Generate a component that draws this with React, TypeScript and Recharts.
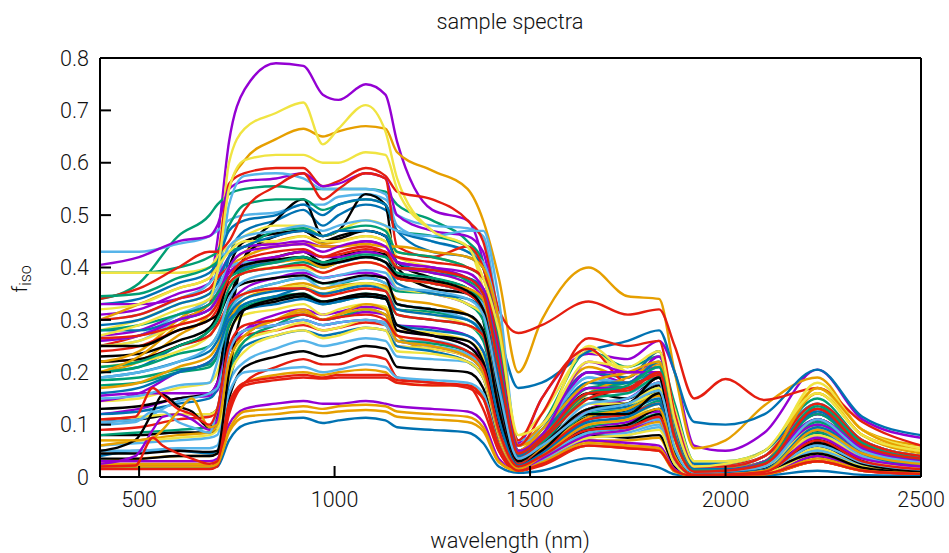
import React from 'react';
import { LineChart, Line, XAxis, YAxis } from 'recharts';

const wavelengths = [400, 500, 600, 680, 700, 730, 770, 850, 920, 970, 1010, 1080, 1130, 1160, 1250, 1340, 1380, 1420, 1470, 1530, 1650, 1750, 1830, 1870, 1920, 2000, 2100, 2235, 2350, 2500];
// the few spectra with pigment bumps below 700 nm need a finer start
const bumpWavelengths = [400, 490, 535, 560, 600, 635, 680, 700, 730, 770, 850, 920, 970, 1010, 1080, 1130, 1160, 1250, 1340, 1380, 1420, 1470, 1530, 1650, 1750, 1830, 1870, 1920, 2000, 2100, 2235, 2350, 2500];

const xTicks = [500, 1000, 1500, 2000, 2500];
const yTicks = [0, 0.1, 0.2, 0.3, 0.4, 0.5, 0.6, 0.7, 0.8];

// gnuplot default line colours, in cycle order
const palette = ['#9400d3', '#009e73', '#56b4e9', '#e69f00', '#f0e442', '#0072b2', '#e51e10', '#000000'];

const s01 = [.31,.32,.35,.37,.45,.64,.74,.79,.785,.73,.72,.75,.73,.64,.51,.49,.41,.22,.065,.15,.235,.225,.26,.2,.06,.05,.085,.205,.11,.075];
const s02 = [.34,.37,.46,.50,.52,.54,.55,.555,.55,.55,.55,.55,.545,.52,.49,.45,.41,.27,.06,.1,.24,.21,.23,.14,.03,.03,.05,.15,.07,.04];
const s03 = [.43,.43,.445,.46,.47,.49,.50,.505,.52,.52,.535,.54,.53,.50,.48,.475,.46,.30,.06,.09,.19,.17,.2,.1,.02,.02,.04,.12,.06,.035];
const s04 = [.30,.33,.36,.38,.42,.55,.605,.645,.665,.65,.66,.67,.665,.62,.585,.55,.49,.38,.20,.30,.40,.345,.34,.2,.055,.07,.137,.19,.09,.06];
const s05 = [.28,.30,.33,.35,.40,.60,.665,.695,.715,.635,.665,.71,.66,.57,.47,.44,.36,.22,.08,.12,.24,.2,.22,.13,.03,.03,.05,.17,.08,.05];
const s06 = [.20,.21,.25,.27,.30,.42,.47,.49,.51,.48,.50,.52,.51,.47,.43,.42,.40,.28,.17,.18,.24,.26,.28,.2,.105,.10,.12,.205,.115,.08];
const s07 = [.25,.27,.30,.33,.40,.56,.58,.59,.59,.555,.565,.59,.575,.545,.53,.49,.45,.32,.275,.29,.335,.31,.32,.25,.15,.187,.147,.17,.105,.06];
const s08 = [.105,.11,.12,.12,.13,.3,.42,.49,.53,.46,.47,.54,.52,.38,.37,.36,.3,.12,.04,.07,.16,.15,.19,.08,.01,.01,.02,.06,.025,.012];
const s09 = [.405,.42,.45,.46,.48,.55,.565,.57,.58,.555,.56,.58,.57,.50,.47,.46,.43,.27,.06,.10,.2,.18,.23,.12,.02,.02,.04,.13,.06,.035];
const s10 = [.39,.39,.40,.42,.43,.48,.52,.53,.53,.51,.52,.53,.52,.47,.46,.44,.40,.26,.05,.08,.18,.17,.2,.08,.015,.015,.03,.11,.05,.03];
const s11 = [.25,.26,.3,.32,.35,.52,.575,.58,.57,.55,.55,.55,.54,.48,.45,.43,.41,.3,.07,.09,.17,.16,.19,.07,.015,.015,.03,.1,.045,.025];
const s12 = [.20,.22,.27,.31,.33,.40,.43,.45,.46,.445,.45,.46,.45,.43,.42,.40,.38,.27,.06,.1,.21,.19,.24,.1,.02,.02,.04,.16,.08,.05];
const s13 = [.39,.39,.39,.40,.42,.44,.46,.48,.48,.46,.47,.49,.48,.42,.40,.38,.36,.22,.05,.09,.25,.2,.19,.09,.015,.02,.04,.18,.09,.055];
const s14 = [.33,.34,.37,.39,.41,.47,.49,.50,.52,.50,.52,.53,.52,.47,.45,.43,.40,.25,.05,.09,.2,.19,.24,.11,.025,.025,.05,.14,.07,.04];
const s15 = [.34,.36,.40,.43,.43,.45,.51,.555,.58,.53,.55,.58,.57,.44,.42,.44,.40,.27,.07,.15,.245,.18,.19,.09,.015,.02,.04,.12,.06,.03];
const s16 = [.08,.08,.085,.085,.09,.28,.42,.46,.47,.45,.46,.47,.46,.40,.36,.35,.33,.2,.03,.06,.15,.14,.175,.06,.008,.008,.015,.05,.02,.01];
const s17 = [.33,.33,.34,.36,.38,.42,.44,.445,.45,.44,.44,.45,.44,.41,.40,.38,.36,.25,.05,.08,.2,.2,.21,.08,.01,.015,.03,.12,.06,.03];
const s18 = [.345,.35,.38,.40,.41,.43,.44,.47,.475,.46,.47,.48,.47,.43,.42,.40,.38,.27,.05,.08,.17,.18,.2,.08,.012,.015,.03,.11,.05,.03];
const s19 = [.30,.31,.34,.37,.39,.44,.46,.47,.48,.47,.48,.49,.48,.47,.46,.47,.47,.34,.06,.09,.19,.18,.21,.1,.02,.02,.04,.14,.07,.04];
const s20 = [.22,.24,.30,.34,.35,.40,.42,.44,.445,.44,.44,.445,.44,.44,.43,.42,.40,.3,.06,.08,.16,.19,.215,.08,.012,.015,.03,.17,.09,.05];
const s21 = [.32,.33,.36,.38,.40,.43,.45,.45,.46,.45,.45,.46,.45,.40,.39,.37,.34,.2,.04,.07,.14,.14,.16,.06,.01,.01,.02,.08,.04,.02];
const s22 = [.29,.30,.33,.35,.37,.42,.44,.46,.47,.46,.47,.47,.46,.41,.39,.38,.36,.22,.04,.08,.18,.18,.22,.09,.015,.015,.03,.13,.065,.035];
const s23 = [.30,.31,.34,.36,.38,.40,.41,.42,.43,.42,.43,.44,.43,.42,.41,.40,.38,.24,.06,.12,.265,.25,.26,.12,.02,.02,.04,.14,.07,.04];
const s24 = [.045,.045,.05,.048,.05,.20,.32,.34,.35,.33,.34,.35,.345,.28,.27,.26,.22,.1,.02,.05,.12,.12,.16,.05,.005,.005,.012,.045,.018,.008];
const s25 = [.27,.28,.31,.33,.35,.39,.41,.42,.43,.42,.42,.43,.42,.40,.39,.37,.34,.2,.04,.07,.17,.17,.2,.07,.01,.01,.025,.1,.05,.025];
const s26 = [.21,.22,.25,.28,.30,.36,.39,.40,.41,.40,.41,.42,.41,.39,.38,.36,.33,.18,.035,.065,.15,.16,.19,.07,.01,.01,.025,.12,.055,.03];
const s27 = [.26,.27,.31,.34,.36,.40,.41,.41,.42,.40,.41,.42,.41,.38,.37,.35,.33,.2,.04,.06,.14,.15,.18,.06,.008,.01,.02,.09,.04,.02];
const s28 = [.20,.23,.29,.33,.34,.38,.40,.41,.415,.40,.41,.42,.41,.38,.37,.36,.34,.2,.05,.09,.18,.2,.22,.085,.012,.012,.03,.16,.08,.045];
const s29 = [.25,.26,.29,.31,.33,.37,.39,.40,.40,.39,.40,.41,.40,.36,.35,.33,.31,.18,.035,.06,.13,.14,.17,.06,.008,.01,.02,.095,.045,.025];
const s30 = [.28,.28,.30,.32,.34,.38,.40,.41,.42,.41,.41,.42,.41,.37,.35,.34,.32,.19,.04,.07,.16,.17,.2,.08,.012,.012,.028,.125,.06,.03];
const s31 = [.24,.25,.28,.30,.32,.37,.39,.40,.405,.39,.40,.41,.40,.38,.37,.35,.32,.17,.035,.07,.15,.17,.195,.075,.01,.012,.025,.13,.065,.035];
const s32 = [.25,.25,.28,.30,.31,.38,.405,.415,.42,.405,.41,.42,.41,.385,.375,.355,.32,.16,.03,.06,.13,.14,.19,.05,.006,.006,.015,.07,.03,.012];
const s33 = [.145,.16,.20,.22,.24,.32,.36,.38,.39,.38,.385,.39,.38,.36,.35,.33,.31,.16,.03,.06,.13,.15,.18,.06,.008,.01,.02,.09,.04,.02];
const s34 = [.20,.21,.235,.25,.27,.32,.35,.37,.38,.37,.37,.38,.37,.355,.35,.33,.30,.15,.03,.055,.12,.13,.16,.05,.006,.008,.018,.105,.05,.025];
const s35 = [.15,.155,.175,.18,.22,.31,.35,.37,.38,.36,.37,.38,.37,.33,.32,.30,.28,.14,.025,.05,.11,.12,.14,.05,.006,.008,.016,.08,.035,.018];
const s36 = [.17,.18,.21,.23,.25,.30,.34,.36,.37,.36,.365,.37,.365,.34,.33,.31,.28,.14,.03,.055,.115,.13,.155,.055,.008,.01,.02,.13,.065,.035];
const s37 = [.21,.22,.24,.27,.29,.33,.35,.36,.365,.35,.36,.37,.36,.32,.31,.29,.27,.13,.025,.05,.10,.11,.14,.045,.005,.007,.015,.075,.035,.018];
const s38 = [.19,.20,.22,.24,.26,.31,.34,.355,.36,.35,.355,.365,.355,.32,.31,.30,.27,.14,.025,.05,.11,.125,.15,.05,.006,.008,.017,.095,.045,.022];
const s39 = [.22,.225,.25,.27,.29,.33,.35,.36,.36,.345,.35,.36,.355,.31,.30,.29,.27,.13,.025,.05,.11,.12,.14,.05,.006,.008,.016,.11,.055,.03];
const s40 = [.22,.225,.25,.28,.30,.35,.37,.38,.385,.37,.375,.385,.38,.33,.32,.31,.28,.13,.02,.04,.09,.10,.13,.04,.004,.005,.012,.06,.025,.01];
const s41 = [.155,.16,.16,.16,.18,.25,.28,.30,.31,.30,.305,.315,.31,.28,.27,.25,.22,.10,.02,.045,.10,.11,.125,.04,.004,.006,.012,.07,.03,.015];
const s42 = [.185,.19,.205,.215,.23,.29,.325,.34,.345,.33,.335,.345,.34,.31,.30,.29,.26,.12,.022,.04,.095,.11,.13,.04,.005,.006,.013,.085,.04,.02];
const s43 = [.105,.11,.145,.16,.17,.25,.28,.29,.30,.29,.295,.30,.29,.26,.26,.24,.21,.09,.018,.04,.09,.10,.12,.035,.004,.005,.01,.065,.03,.015];
const s44 = [.06,.07,.08,.085,.10,.22,.27,.30,.32,.30,.31,.33,.32,.27,.24,.22,.19,.07,.015,.035,.08,.09,.105,.03,.003,.004,.01,.11,.055,.03];
const s45 = [.11,.115,.12,.12,.13,.21,.26,.28,.295,.28,.285,.30,.295,.25,.245,.23,.20,.085,.015,.035,.08,.09,.11,.03,.003,.004,.009,.055,.025,.012];
const s46 = [.04,.05,.05,.045,.05,.18,.25,.27,.28,.27,.275,.285,.28,.25,.24,.22,.19,.08,.015,.035,.085,.095,.115,.035,.004,.005,.01,.075,.035,.018];
const s47 = [.02,.02,.02,.02,.03,.13,.18,.21,.225,.215,.215,.232,.225,.19,.18,.175,.13,.05,.012,.025,.07,.06,.055,.012,.002,.002,.004,.03,.012,.005];
const s48 = [.035,.035,.04,.04,.045,.15,.21,.23,.24,.23,.235,.25,.245,.21,.205,.20,.17,.06,.012,.03,.08,.075,.08,.02,.003,.003,.006,.04,.016,.007];
const s49 = [.03,.03,.03,.03,.035,.10,.13,.14,.145,.14,.14,.145,.14,.135,.13,.125,.105,.035,.012,.03,.07,.065,.06,.015,.002,.003,.005,.04,.018,.01];
const s50 = [.08,.085,.09,.095,.10,.20,.26,.29,.31,.30,.305,.32,.31,.26,.255,.24,.21,.09,.018,.04,.085,.1,.12,.035,.004,.005,.012,.09,.04,.02];
const s51 = [.05,.05,.055,.055,.06,.16,.20,.205,.21,.20,.205,.215,.21,.19,.185,.18,.16,.06,.012,.03,.075,.08,.095,.025,.003,.004,.008,.05,.022,.012];
const s52 = [.025,.025,.025,.025,.03,.09,.125,.13,.135,.13,.135,.138,.135,.125,.12,.115,.095,.03,.012,.028,.065,.06,.055,.012,.002,.003,.005,.035,.015,.008];
const s53 = [.07,.07,.075,.08,.09,.19,.24,.27,.28,.265,.27,.285,.28,.24,.235,.22,.19,.08,.015,.035,.075,.08,.09,.025,.003,.004,.008,.045,.02,.01];
const s54 = [.018,.018,.018,.018,.02,.07,.10,.11,.113,.103,.108,.113,.108,.095,.09,.085,.065,.02,.008,.012,.036,.028,.018,.005,.002,.002,.003,.012,.004,.002];
const s55 = [.015,.015,.015,.015,.02,.12,.175,.185,.19,.188,.19,.19,.19,.18,.175,.175,.15,.05,.012,.022,.06,.055,.05,.012,.002,.003,.005,.03,.012,.006];
const s56 = [.23,.235,.26,.285,.31,.40,.45,.465,.47,.45,.455,.47,.46,.41,.38,.36,.33,.18,.03,.06,.13,.14,.18,.05,.005,.006,.012,.07,.03,.012];
const s57 = [.12,.13,.15,.155,.165,.24,.28,.31,.32,.31,.315,.325,.32,.29,.285,.27,.24,.11,.022,.04,.095,.105,.13,.04,.004,.006,.012,.06,.028,.014];
const s58 = [.175,.18,.2,.21,.23,.30,.33,.345,.35,.335,.34,.35,.345,.32,.315,.30,.27,.13,.025,.05,.10,.115,.145,.045,.005,.007,.014,.10,.05,.025];
const s59 = [.06,.065,.07,.075,.08,.18,.22,.245,.26,.25,.255,.265,.26,.23,.225,.22,.19,.075,.015,.035,.08,.085,.10,.03,.004,.005,.009,.055,.025,.012];
const s60 = [.03,.035,.04,.04,.045,.14,.18,.195,.20,.195,.20,.205,.20,.18,.175,.175,.155,.055,.012,.028,.07,.07,.075,.02,.003,.004,.007,.05,.02,.01];
const s61 = [.145,.15,.17,.18,.20,.28,.31,.32,.33,.31,.32,.33,.325,.28,.275,.26,.23,.10,.02,.04,.09,.10,.12,.035,.004,.005,.011,.07,.03,.016];
const s62 = [.12,.125,.14,.15,.17,.29,.33,.345,.36,.35,.355,.37,.36,.33,.32,.31,.28,.15,.03,.055,.125,.135,.17,.055,.006,.008,.016,.11,.05,.026];
const s63 = [.09,.095,.11,.115,.13,.24,.27,.28,.29,.28,.285,.295,.29,.25,.245,.23,.20,.09,.018,.038,.085,.095,.11,.03,.004,.005,.01,.085,.04,.02];
const s64 = [.13,.135,.15,.16,.18,.33,.40,.42,.43,.41,.42,.43,.425,.38,.37,.35,.32,.16,.025,.05,.115,.125,.165,.045,.005,.006,.012,.085,.035,.015];
const s65 = [.26,.27,.3,.32,.34,.40,.43,.44,.445,.43,.44,.45,.44,.41,.40,.39,.36,.23,.05,.08,.22,.2,.2,.08,.01,.012,.03,.11,.055,.03];
const s66 = [.28,.29,.31,.33,.35,.38,.395,.41,.42,.41,.415,.425,.42,.40,.395,.375,.35,.22,.045,.075,.16,.175,.21,.08,.012,.012,.028,.135,.065,.035];
const s67 = [.19,.2,.22,.25,.27,.34,.375,.39,.395,.38,.385,.395,.39,.36,.355,.34,.31,.17,.035,.06,.125,.14,.165,.055,.008,.01,.02,.11,.05,.028];
const s68 = [.02,.02,.02,.02,.025,.085,.115,.12,.125,.122,.125,.128,.125,.115,.11,.105,.088,.028,.012,.026,.06,.058,.05,.01,.002,.003,.005,.03,.012,.007];
const s69 = [.27,.29,.32,.34,.39,.55,.605,.615,.615,.60,.60,.62,.615,.55,.47,.44,.38,.28,.08,.10,.22,.21,.24,.11,.02,.025,.05,.16,.08,.05];
const s70 = [.16,.17,.2,.22,.24,.30,.32,.33,.34,.33,.335,.345,.34,.29,.28,.27,.24,.11,.022,.045,.105,.115,.14,.04,.005,.007,.014,.095,.045,.022];
const s71 = [.265,.27,.29,.31,.33,.38,.415,.43,.435,.42,.425,.435,.43,.40,.395,.38,.35,.21,.045,.075,.16,.165,.2,.075,.01,.012,.025,.13,.06,.035];

const b1 = [.11,.115,.17,.155,.13,.12,.10,.13,.25,.29,.30,.31,.30,.305,.31,.30,.27,.26,.24,.21,.09,.02,.04,.09,.095,.115,.035,.004,.005,.01,.07,.03,.015];
const b2 = [.02,.022,.075,.06,.045,.035,.025,.03,.14,.18,.19,.195,.19,.195,.195,.195,.185,.18,.17,.15,.06,.012,.025,.06,.055,.05,.012,.002,.003,.006,.03,.012,.006];
const b3 = [.05,.07,.125,.157,.135,.125,.095,.12,.27,.32,.335,.345,.335,.34,.345,.34,.29,.27,.25,.21,.09,.018,.04,.09,.095,.12,.04,.004,.005,.012,.065,.028,.012];
const b4 = [.07,.07,.075,.09,.125,.15,.095,.10,.22,.27,.30,.315,.30,.31,.32,.31,.26,.25,.23,.20,.085,.015,.04,.1,.11,.13,.04,.004,.005,.012,.09,.045,.025];
const b5 = [.025,.04,.09,.115,.12,.11,.09,.11,.24,.28,.29,.30,.29,.295,.30,.295,.26,.25,.23,.20,.085,.015,.035,.08,.09,.11,.035,.004,.005,.011,.075,.035,.02];
const b6 = [.10,.105,.125,.125,.105,.095,.085,.13,.24,.28,.29,.30,.29,.295,.30,.295,.26,.25,.235,.20,.09,.018,.04,.085,.095,.11,.035,.004,.005,.011,.06,.028,.014];

// drawn back to front; the upper band comes late so it covers most of the black traces
const spectra = [
  s01, s02, s03, s04, s05, s06, s07, s08, s09, s10, s11, s12, s13, s14, s15, s16,
  s57, s58, s59, s60, s61, s62, s63, s64, s41, s42, s43, s44, s45, s46, s47, s48,
  s49, s50, s51, s52, s53, s54, s55, s56, s33, s34, s35, s36, s37, s38, s39, s40,
  s17, s18, s19, s20, s21, s22, s23, s24, s25, s26, s27, s28, s29, s30, s31, s32,
  s65, s66, s67, s68, s69, s70, s71,
];
const bumpSpectra = [b3, b5, b6, b4, b1, b2];
const bumpColors = ['#000000', '#9400d3', '#56b4e9', '#e69f00', '#e51e10', '#e51e10'];

const toPoints = (xs: number[], ys: number[]) => xs.map((wavelength, i) => ({ wavelength, value: ys[i] }));

const tickStyle = { fill: '#111', fontSize: 21.5, fontFamily: 'Roboto', fontWeight: 300 };

export default function App() {
  const lastBump = bumpSpectra.length - 1;
  return (
    <div style={{ position: 'absolute', left: 0, top: 0, width: 949, height: 553, background: '#fff' }}>
      <LineChart width={949} height={553} margin={{ top: 50, right: 20, bottom: 36, left: 40 }}>
        <XAxis
          dataKey="wavelength"
          type="number"
          domain={[400, 2500]}
          ticks={xTicks}
          height={40}
          stroke="#000"
          strokeWidth={2}
          tickSize={-11}
          tickMargin={26}
          tick={tickStyle}
          interval={0}
          allowDataOverflow
        />
        <XAxis xAxisId="top" dataKey="wavelength" orientation="top" type="number" domain={[400, 2500]} ticks={xTicks} height={8} stroke="#000" strokeWidth={2} tickSize={-11} tick={false} interval={0} allowDataOverflow />
        <YAxis
          type="number"
          domain={[0, 0.8]}
          ticks={yTicks}
          width={60}
          stroke="#000"
          strokeWidth={2}
          tickSize={-11}
          tickMargin={22}
          tick={tickStyle}
          interval={0}
          allowDataOverflow
        />
        <YAxis yAxisId="right" orientation="right" type="number" domain={[0, 0.8]} ticks={yTicks} width={8} stroke="#000" strokeWidth={2} tickSize={-11} tick={false} interval={0} allowDataOverflow />
        {spectra.map((ys, i) => (
          <Line
            key={`s${i}`}
            data={toPoints(wavelengths, ys)}
            dataKey="value"
            type="monotone"
            stroke={palette[i % palette.length]}
            strokeWidth={2.4}
            dot={false}
            isAnimationActive={false}
          />
        ))}
        {bumpSpectra.map((ys, i) => (
          // the last one goes on the mirror axes so they get their ticks too
          <Line
            key={`b${i}`}
            data={toPoints(bumpWavelengths, ys)}
            dataKey="value"
            type="monotone"
            xAxisId={i === lastBump ? 'top' : 0}
            yAxisId={i === lastBump ? 'right' : 0}
            stroke={bumpColors[i]}
            strokeWidth={2.4}
            dot={false}
            isAnimationActive={false}
          />
        ))}
      </LineChart>
      <div style={{ position: 'absolute', left: 0, width: 1020, top: 9, textAlign: 'center', font: '300 21.8px Roboto', color: '#111' }}>sample spectra</div>
      <div style={{ position: 'absolute', left: 0, width: 1020, top: 528, textAlign: 'center', font: '300 21.8px Roboto', color: '#111' }}>wavelength (nm)</div>
      <div style={{ position: 'absolute', left: 8, top: 279, transformOrigin: '0 0', transform: 'rotate(-90deg) translate(-50%, 0)', font: '300 21px Roboto', color: '#111', whiteSpace: 'nowrap' }}>
        f<sub style={{ fontSize: 16, verticalAlign: -4 }}>iso</sub>
      </div>
    </div>
  );
}
